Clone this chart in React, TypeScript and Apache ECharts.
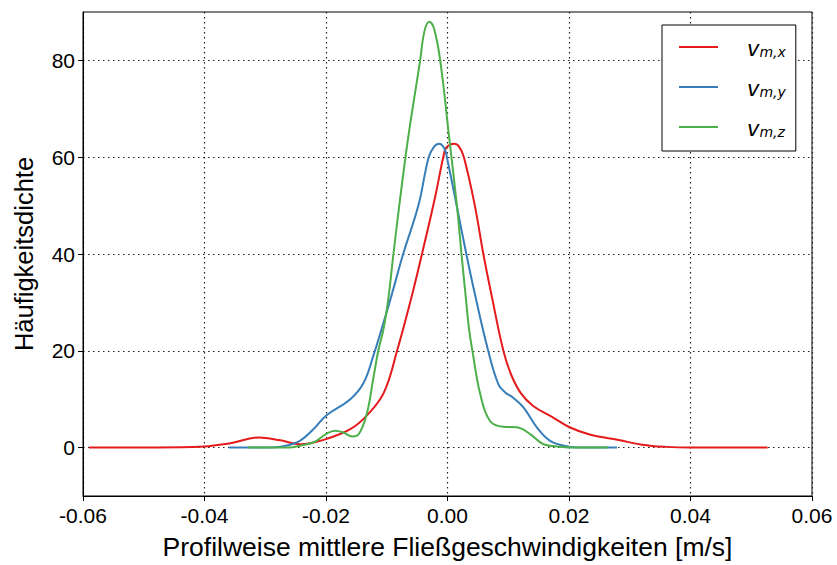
import React, { useEffect, useRef } from "react";
import * as echarts from "echarts";

const seriesNames = ["v_m,x", "v_m,y", "v_m,z"];
const seriesColors = ["#e41a1c", "#377eb8", "#4daf4a"];

const yTicks = [0, 20, 40, 60, 80];

const redX = [-0.059, -0.05, -0.042, -0.0357, -0.0311, -0.0275, -0.0243, -0.0226, -0.02, -0.016, -0.0133, -0.0105, -0.0083, -0.0059, -0.0042, -0.002, -0.0007, -0.0002, 0.0011, 0.0019, 0.0027, 0.0045, 0.0059, 0.0073, 0.0092, 0.0105, 0.0121, 0.0141, 0.0174, 0.0201, 0.0234, 0.0284, 0.032, 0.036, 0.04, 0.0527];
const redY = [0, 0, 0.1, 0.9, 2.1, 1.5, 0.7, 0.9, 1.75, 3.8, 6.6, 11.3, 20, 31.2, 40, 52, 60, 62, 62.8, 62.2, 60, 50, 40, 31.2, 20, 15, 11.2, 8.6, 6.2, 4.2, 2.7, 1.5, 0.6, 0.15, 0, 0];

const blueX = [-0.036, -0.03, -0.027, -0.0243, -0.022, -0.02, -0.016, -0.0138, -0.0122, -0.0108, -0.0092, -0.0073, -0.0048, -0.0031, -0.0022, -0.0014, -0.0006, -0.0001, 0.0031, 0.0046, 0.0067, 0.0084, 0.0095, 0.0108, 0.0125, 0.0147, 0.0169, 0.0196, 0.0225, 0.0279];
const blueY = [0, 0, 0.3, 1.4, 3.9, 6.6, 10, 13.4, 19, 24.7, 31.5, 40, 50, 60, 62.2, 62.8, 62, 60, 40, 31.2, 20, 13, 11.4, 10.3, 8.3, 4.2, 1.4, 0.3, 0, 0];

const greenX = [-0.0328, -0.026, -0.0243, -0.022, -0.02, -0.0185, -0.0171, -0.0157, -0.0146, -0.0133, -0.0122, -0.0114, -0.0105, -0.0097, -0.0089, -0.008, -0.0065, -0.0045, -0.0038, -0.003, -0.0022, -0.0012, 0.0003, 0.0016, 0.0023, 0.003, 0.0035, 0.0041, 0.0054, 0.007, 0.0092, 0.0114, 0.0136, 0.0158, 0.0185, 0.021, 0.0264];
const greenY = [0, 0, 0.4, 1.1, 2.8, 3.5, 3.1, 2.3, 2.8, 6.9, 14.4, 20, 24.7, 31.2, 40, 49.4, 63.8, 80, 86, 88, 86.5, 80, 63.8, 49.4, 40, 31.2, 25, 20, 11, 5.5, 4.3, 4.2, 2.8, 0.7, 0.2, 0, 0];

const xs = [redX, blueX, greenX];
const ys = [redY, blueY, greenY];

const FONT = "'Liberation Sans', Arial, sans-serif";
const MATH = "'DejaVu Sans', sans-serif";

export default function App() {
  const ref = useRef<HTMLDivElement>(null);
  useEffect(() => {
    if (!ref.current) return;
    const chart = echarts.init(ref.current, undefined, { renderer: "svg" });
    const series = seriesNames.map((name, i) => ({
      name,
      type: "line",
      data: xs[i].map((x, j) => [x, ys[i][j]]),
      showSymbol: false,
      symbol: "none",
      smooth: 0.4,
      lineStyle: { color: seriesColors[i], width: 2 },
      itemStyle: { color: seriesColors[i] },
      z: 3 + i,
    }));
    chart.setOption({
      animation: false,
      backgroundColor: "#fff",
      textStyle: { fontFamily: FONT },
      grid: {
        left: 83,
        right: 25,
        top: 12,
        bottom: 66,
        show: true,
        borderColor: "#000",
        borderWidth: 1,
        backgroundColor: "transparent",
      },
      legend: {
        orient: "vertical",
        left: 662,
        top: 25,
        padding: [10, 10, 12, 17],
        itemGap: 16,
        itemWidth: 39,
        itemHeight: 2,
        backgroundColor: "#fff",
        borderColor: "#000",
        borderWidth: 1,
        borderRadius: 0,
        icon: "rect",
        data: seriesNames.map((n, i) => ({
          name: n,
          itemStyle: { color: seriesColors[i] },
        })),
        formatter: (name: string) => {
          const sub = name.split("_")[1];
          return `{g|}{v|v}{s|${sub}}`;
        },
        textStyle: {
          fontFamily: MATH,
          color: "#000",
          fontWeight: "normal",
          rich: {
            g: { width: 24, lineHeight: 24 },
            v: { fontSize: 21, fontStyle: "italic", fontWeight: "normal", fontFamily: MATH, color: "#000", verticalAlign: "bottom", lineHeight: 24 },
            s: { fontSize: 14, fontStyle: "italic", fontWeight: "normal", fontFamily: MATH, color: "#000", verticalAlign: "bottom", lineHeight: 14, padding: [10, 0, 0, 0] },
          },
        },
      },
      xAxis: {
        type: "value",
        min: -0.06,
        max: 0.06,
        interval: 0.02,
        name: "Profilweise mittlere Fließgeschwindigkeiten [m/s]",
        nameLocation: "middle",
        nameGap: 37,
        nameTextStyle: { fontSize: 26.5, color: "#000", fontFamily: FONT },
        axisLine: { show: true, onZero: false, lineStyle: { color: "#000", width: 1 } },
        axisTick: { show: true, inside: false, length: 5, lineStyle: { color: "#000" } },
        axisLabel: {
          fontSize: 21,
          color: "#000",
          fontFamily: FONT,
          margin: 9,
          formatter: (v: number) => (Math.abs(v) < 1e-9 ? "0.00" : v.toFixed(2)),
        },
        splitLine: { show: true, lineStyle: { color: "#222", type: [1.5, 3.5], width: 1.2 } },
      },
      yAxis: {
        type: "value",
        min: -10,
        max: 90,
        name: "Häufigkeitsdichte",
        nameLocation: "middle",
        nameGap: 46,
        nameTextStyle: { fontSize: 25.5, color: "#000", fontFamily: FONT },
        axisLine: { show: true, onZero: false, lineStyle: { color: "#000", width: 1 } },
        axisTick: { show: true, inside: false, length: 5, customValues: yTicks, lineStyle: { color: "#000" } },
        axisLabel: {
          fontSize: 21,
          color: "#000",
          fontFamily: FONT,
          margin: 8,
          customValues: yTicks,
        },
        splitLine: { show: true, lineStyle: { color: "#222", type: [1.5, 3.5], width: 1.2 } },
      },
      series,
    });
    return () => chart.dispose();
  }, []);
  return <div ref={ref} style={{ width: 837, height: 565, position: "absolute", left: 0, top: 0 }} />;
}
